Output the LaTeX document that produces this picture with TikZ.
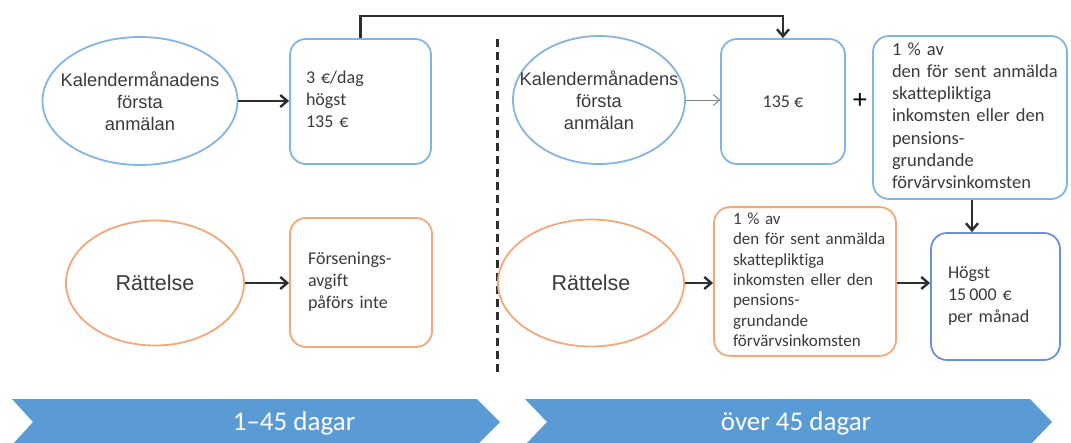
\documentclass[tikz,border=0pt]{standalone}
\usepackage{fontspec}
\setmainfont{Carlito}[Ligatures=CommonOff]
\newfontfamily\arialf{Liberation Sans}
\usetikzlibrary{shapes.geometric,arrows.meta,calc}
\definecolor{eblue}{HTML}{84B4E3}
\definecolor{bblue}{HTML}{6C8FDA}
\definecolor{eorange}{HTML}{F4A878}
\definecolor{chevblue}{HTML}{5B9BD5}
\definecolor{txt}{HTML}{3A3A3A}
\definecolor{arrowc}{HTML}{2E2E2E}
\newcommand{\lines}[1]{\begin{tabular}{@{}l@{}}#1\end{tabular}}
\tikzset{
  ellip/.style={ellipse, draw, line width=1.8pt, inner sep=0pt},
  etext/.style={font=\arialf\fontsize{18.3}{22}\selectfont, text=txt, align=center, inner sep=0pt},
  rtext/.style={font=\arialf\fontsize{21.5}{25}\selectfont, text=txt, inner sep=0pt},
  rbox/.style={rectangle, rounded corners=16pt, draw, line width=1.8pt, align=left, text=txt,
    font=\fontsize{18}{22}\selectfont},
  arr/.style={draw=arrowc, line width=2.4pt, -{Straight Barb[length=7pt,width=12pt]}},
  thinarr/.style={draw=gray, line width=1pt, -{Straight Barb[length=6pt,width=11pt]}},
  dashline/.style={draw=arrowc, line width=3pt, dash pattern=on 8pt off 5pt},
  chev/.style={fill=chevblue},
  chevtext/.style={font=\fontsize{27}{30}\selectfont, text=white, inner sep=0pt}
}
\begin{document}
\begin{tikzpicture}[x=1pt,y=-1pt]
\useasboundingbox (0,0) rectangle (1071,442);

% chevrons
\fill[chev] (12,399) -- (477,399) -- (500,422) -- (477,445) -- (12,445) -- (33,422) -- cycle;
\fill[chev] (525,399) -- (1030,399) -- (1052,422) -- (1030,445) -- (525,445) -- (547,422) -- cycle;
\node[chevtext] (c1) at (294,423) {1–45 dagar};
\node[chevtext] (c2) at (796,423) {över 45 dagar};

% dashed divider
\coordinate (dtop) at (497,39);
\coordinate (dbot) at (497,376);
\draw[dashline] (dtop) -- (dbot);

% left column
\node[ellip, draw=eblue, minimum width=195pt, minimum height=128pt] (e1) at (140,101) {};
\node[etext] (e1t) at (e1) {Kalendermånadens\\första\\anmälan};
\node[rbox, draw=eblue, minimum height=125pt, text width=109pt, inner xsep=16pt] (b1) at (360.5,101.5) {\lines{3 €/dag\\högst\\135 €}};

\node[ellip, draw=eorange, minimum width=178pt, minimum height=125pt] (e3) at (155,283) {};
\node[rtext] (e3t) at (e3) {Rättelse};
\node[rbox, draw=eorange, minimum height=129pt, text width=106pt, inner xsep=18pt] (b5) at (361,282.5) {\lines{Försenings-\\avgift\\påförs inte}};

% right column
\node[ellip, draw=eblue, minimum width=172pt, minimum height=128pt] (e2) at (599,100) {};
\node[etext] (e2t) at (e2) {Kalendermånadens\\första\\anmälan};
\node[rbox, draw=eblue, minimum height=125pt, minimum width=124pt, align=center] (b2) at (783,101.5) {135 €};
\node[font=\arialf\fontsize{26}{26}\selectfont, text=black, inner sep=0pt] (plus) at (860,101) {+};
\node[rbox, draw=eblue, minimum height=163pt, text width=156pt, inner xsep=19pt, font=\fontsize{18.5}{22.2}\selectfont] (b3) at (970,117.5)
  {\lines{1 \% av\\den för sent anmälda\\skattepliktiga\\inkomsten eller den\\pensions-\\grundande\\förvärvsinkomsten}};
\node[rbox, draw=bblue, minimum height=127pt, text width=95pt, inner xsep=17pt] (b4) at (995.5,296.5) {\lines{Högst\\15\,000 €\\per månad}};

\node[ellip, draw=eorange, minimum width=186pt, minimum height=127pt] (e4) at (591,283) {};
\node[rtext] (e4t) at (e4) {Rättelse};
\node[rbox, draw=eorange, minimum height=147pt, text width=144pt, inner xsep=19pt, font=\fontsize{17}{20.3}\selectfont] (b6) at (805,281.5)
  {\lines{1 \% av\\den för sent anmälda\\skattepliktiga\\inkomsten eller den\\pensions-\\grundande\\förvärvsinkomsten}};

% connectors
\draw[arr] (e1.east) -- (e1.east -| b1.west);
\draw[arr] (e3.east) -- (e3.east -| b5.west);
\draw[thinarr] (e2.east) -- (e2.east -| b2.west);
\draw[arr] (e4.east) -- (e4.east -| b6.west);
\draw[arr] (b6.east |- e4.east) -- (e4.east -| b4.west);
\draw[arr] ([xshift=2pt]b3.south) -- ([xshift=2pt]b3.south |- b4.north);
\draw[arr] (b1.north) -- ++(0,-22) -| (b2.north);
\end{tikzpicture}
\end{document}
